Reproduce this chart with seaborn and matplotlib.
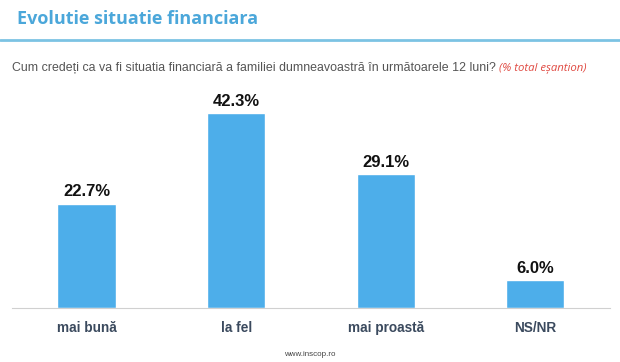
import matplotlib
matplotlib.use("Agg")
import matplotlib.pyplot as plt
import seaborn as sns
import pandas as pd

categorii = ["mai bună", "la fel", "mai proastă", "NS/NR"]
procente = [22.7, 42.3, 29.1, 6.0]
etichete = ["22.7%", "42.3%", "29.1%", "6.0%"]

df = pd.DataFrame({"categorie": categorii, "procent": procente})

sns.set_theme(style="white")
plt.rcParams["font.family"] = ["Liberation Sans", "DejaVu Sans"]

fig = plt.figure(figsize=(6.2, 3.62), dpi=100)
ax = fig.add_axes([0.019, 0.149, 0.965, 0.60])

sns.barplot(data=df, x="categorie", y="procent", color="#4daeea",
            width=0.39, saturation=1, ax=ax)

for bar, txt in zip(ax.patches, etichete):
    ax.text(bar.get_x() + bar.get_width() / 2, bar.get_height() + 1.0, txt,
            ha="center", va="bottom", fontsize=12, fontweight="bold", color="#111111")

ax.set_xlim(-0.5, 3.5)
ax.set_ylim(0, 47.2)
ax.set_xlabel("")
ax.set_ylabel("")
ax.set_yticks([])
ax.set_xticks(range(4))
ax.set_xticklabels(categorii, fontsize=9.8, fontweight="bold", color="#3b4a5e")
ax.tick_params(axis="x", which="major", length=0, pad=9)
ax.set_xticks([0.5, 1.5, 2.5], minor=True)
ax.tick_params(axis="x", which="minor", length=4, color="#d0d0d0", width=0.8)
for s in ["top", "right", "left"]:
    ax.spines[s].set_visible(False)
ax.spines["bottom"].set_color("#d0d0d0")
ax.spines["bottom"].set_linewidth(0.8)

# antet
fig.text(0.028, 0.948, "Evolutie situatie financiara", fontsize=13, fontweight="bold",
         color="#4ba7da", family=["Open Sans", "DejaVu Sans"], va="center")
fig.add_artist(plt.Line2D([0, 1], [0.89, 0.89], color="#7cc3e3", linewidth=2.0,
                          transform=fig.transFigure))

t = fig.text(0.019, 0.812, "Cum credeți ca va fi situatia financiară a familiei dumneavoastră în următoarele 12 luni? ",
             fontsize=8.9, color="#555555", va="center")
fig.canvas.draw()
bb = t.get_window_extent()
x_end = bb.x1 / fig.bbox.width
fig.text(x_end, 0.812, "(% total eșantion)", fontsize=8.2, color="#e04a42",
         style="italic", family=["Open Sans", "DejaVu Sans"], va="center")

fig.text(0.5, 0.02, "www.inscop.ro", fontsize=5.8, color="#444444", ha="center", va="center")

fig.savefig("out.png", dpi=100)
